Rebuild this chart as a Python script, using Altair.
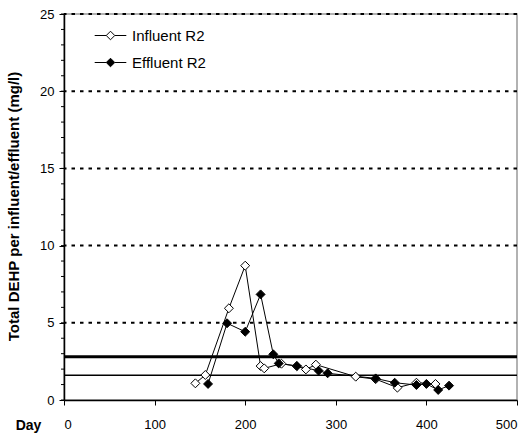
import altair as alt
import pandas as pd

# Influent R2
inf_day = [145, 156, 182, 200, 217, 221, 240, 257, 267, 278, 322, 344, 368, 389, 410]
inf_val = [1.08, 1.62, 5.94, 8.70, 2.20, 2.05, 2.35, 2.20, 1.98, 2.29, 1.51, 1.35, 0.80, 1.12, 1.04]
# Effluent R2
eff_day = [159, 180, 200, 217, 231, 237, 257, 281, 291, 344, 365, 389, 400, 413, 425]
eff_val = [1.04, 4.97, 4.42, 6.84, 2.96, 2.37, 2.20, 1.90, 1.73, 1.40, 1.12, 0.97, 1.04, 0.65, 0.93]

series_names = ["Influent R2", "Effluent R2"]
grid_values = [5, 10, 15, 20, 25]
ref_thick = [2.8]
ref_thin = [1.6]
x_ticks = [0, 100, 200, 300, 400, 500]
y_ticks = [0, 5, 10, 15, 20, 25]
y_minor = list(range(0, 26))

df = pd.concat([
    pd.DataFrame({"day": inf_day, "val": inf_val, "series": series_names[0]}),
    pd.DataFrame({"day": eff_day, "val": eff_val, "series": series_names[1]}),
])

xscale = alt.Scale(domain=[0, 500], nice=False)
yscale = alt.Scale(domain=[0, 25], nice=False)

FONT = "Liberation Sans"

x_axis = alt.Axis(values=x_ticks, title="Day", tickSize=5, labelPadding=13,
                  titleX=-36, titleY=25, titleAlign="center", titleBaseline="middle",
                  titleFontWeight="bold", titleFontSize=14, grid=False)
y_axis = alt.Axis(values=y_ticks, orient="left",
                  title="Total DEHP per influent/effluent (mg/l)",
                  tickSize=5, labelPadding=5, titleFontWeight="bold", titleFontSize=15,
                  titleX=-51, titleY=192, titleAlign="center", titleBaseline="middle",
                  titleAngle=270, grid=False)

grid = alt.Chart(pd.DataFrame({"g": grid_values})).mark_rule(
    color="black", strokeWidth=2, strokeDash=[3.5, 5]
).encode(y=alt.Y("g:Q", scale=yscale, axis=y_axis))

thick = alt.Chart(pd.DataFrame({"r": ref_thick})).mark_rule(
    color="black", strokeWidth=3
).encode(y=alt.Y("r:Q", scale=yscale, axis=y_axis))

thin = alt.Chart(pd.DataFrame({"r": ref_thin})).mark_rule(
    color="black", strokeWidth=1.5
).encode(y=alt.Y("r:Q", scale=yscale, axis=y_axis))

# minor ticks on the y axis (every unit)
minor = alt.Chart(pd.DataFrame({"m": y_minor})).mark_rule(
    color="black", strokeWidth=1, clip=False
).encode(
    y=alt.Y("m:Q", scale=yscale, axis=y_axis),
    x=alt.value(-3), x2=alt.value(0),
)

legend_path = "M-1,0H-0.27M0.27,0H1M0,-0.27L0.27,0L0,0.27L-0.27,0Z"

lines = alt.Chart(df).mark_line(color="black", strokeWidth=1).encode(
    x=alt.X("day:Q", scale=xscale, axis=x_axis),
    y=alt.Y("val:Q", scale=yscale, axis=y_axis),
    detail="series:N",
)

points = alt.Chart(df).mark_point(
    shape="diamond", size=80, stroke="black", strokeWidth=1, opacity=1, filled=False
).encode(
    x=alt.X("day:Q", scale=xscale, axis=x_axis),
    y=alt.Y("val:Q", scale=yscale, axis=y_axis),
    fill=alt.Fill("series:N",
                  scale=alt.Scale(domain=series_names, range=["white", "black"]),
                  legend=alt.Legend(title=None, orient="none", legendX=30, legendY=5,
                                    symbolType=legend_path, symbolSize=1000,
                                    symbolStrokeColor="black", symbolStrokeWidth=1,
                                    labelFontSize=15, labelFont=FONT, labelColor="black",
                                    rowPadding=2, labelOffset=5)),
)

chart = alt.layer(grid, thick, thin, minor, lines, points).properties(
    width=453, height=386,
    padding={"left": 64, "top": 14, "right": 12, "bottom": 39},
    autosize=alt.AutoSizeParams(type="none"),
).configure_view(
    stroke="#999999", strokeWidth=1.5
).configure_axis(
    labelFont=FONT, titleFont=FONT, labelFontSize=13, labelColor="black",
    titleColor="black", domainColor="black", tickColor="black", domainWidth=1.5,
)

chart.save("out.html", embed_options={"renderer": "svg", "actions": False})
